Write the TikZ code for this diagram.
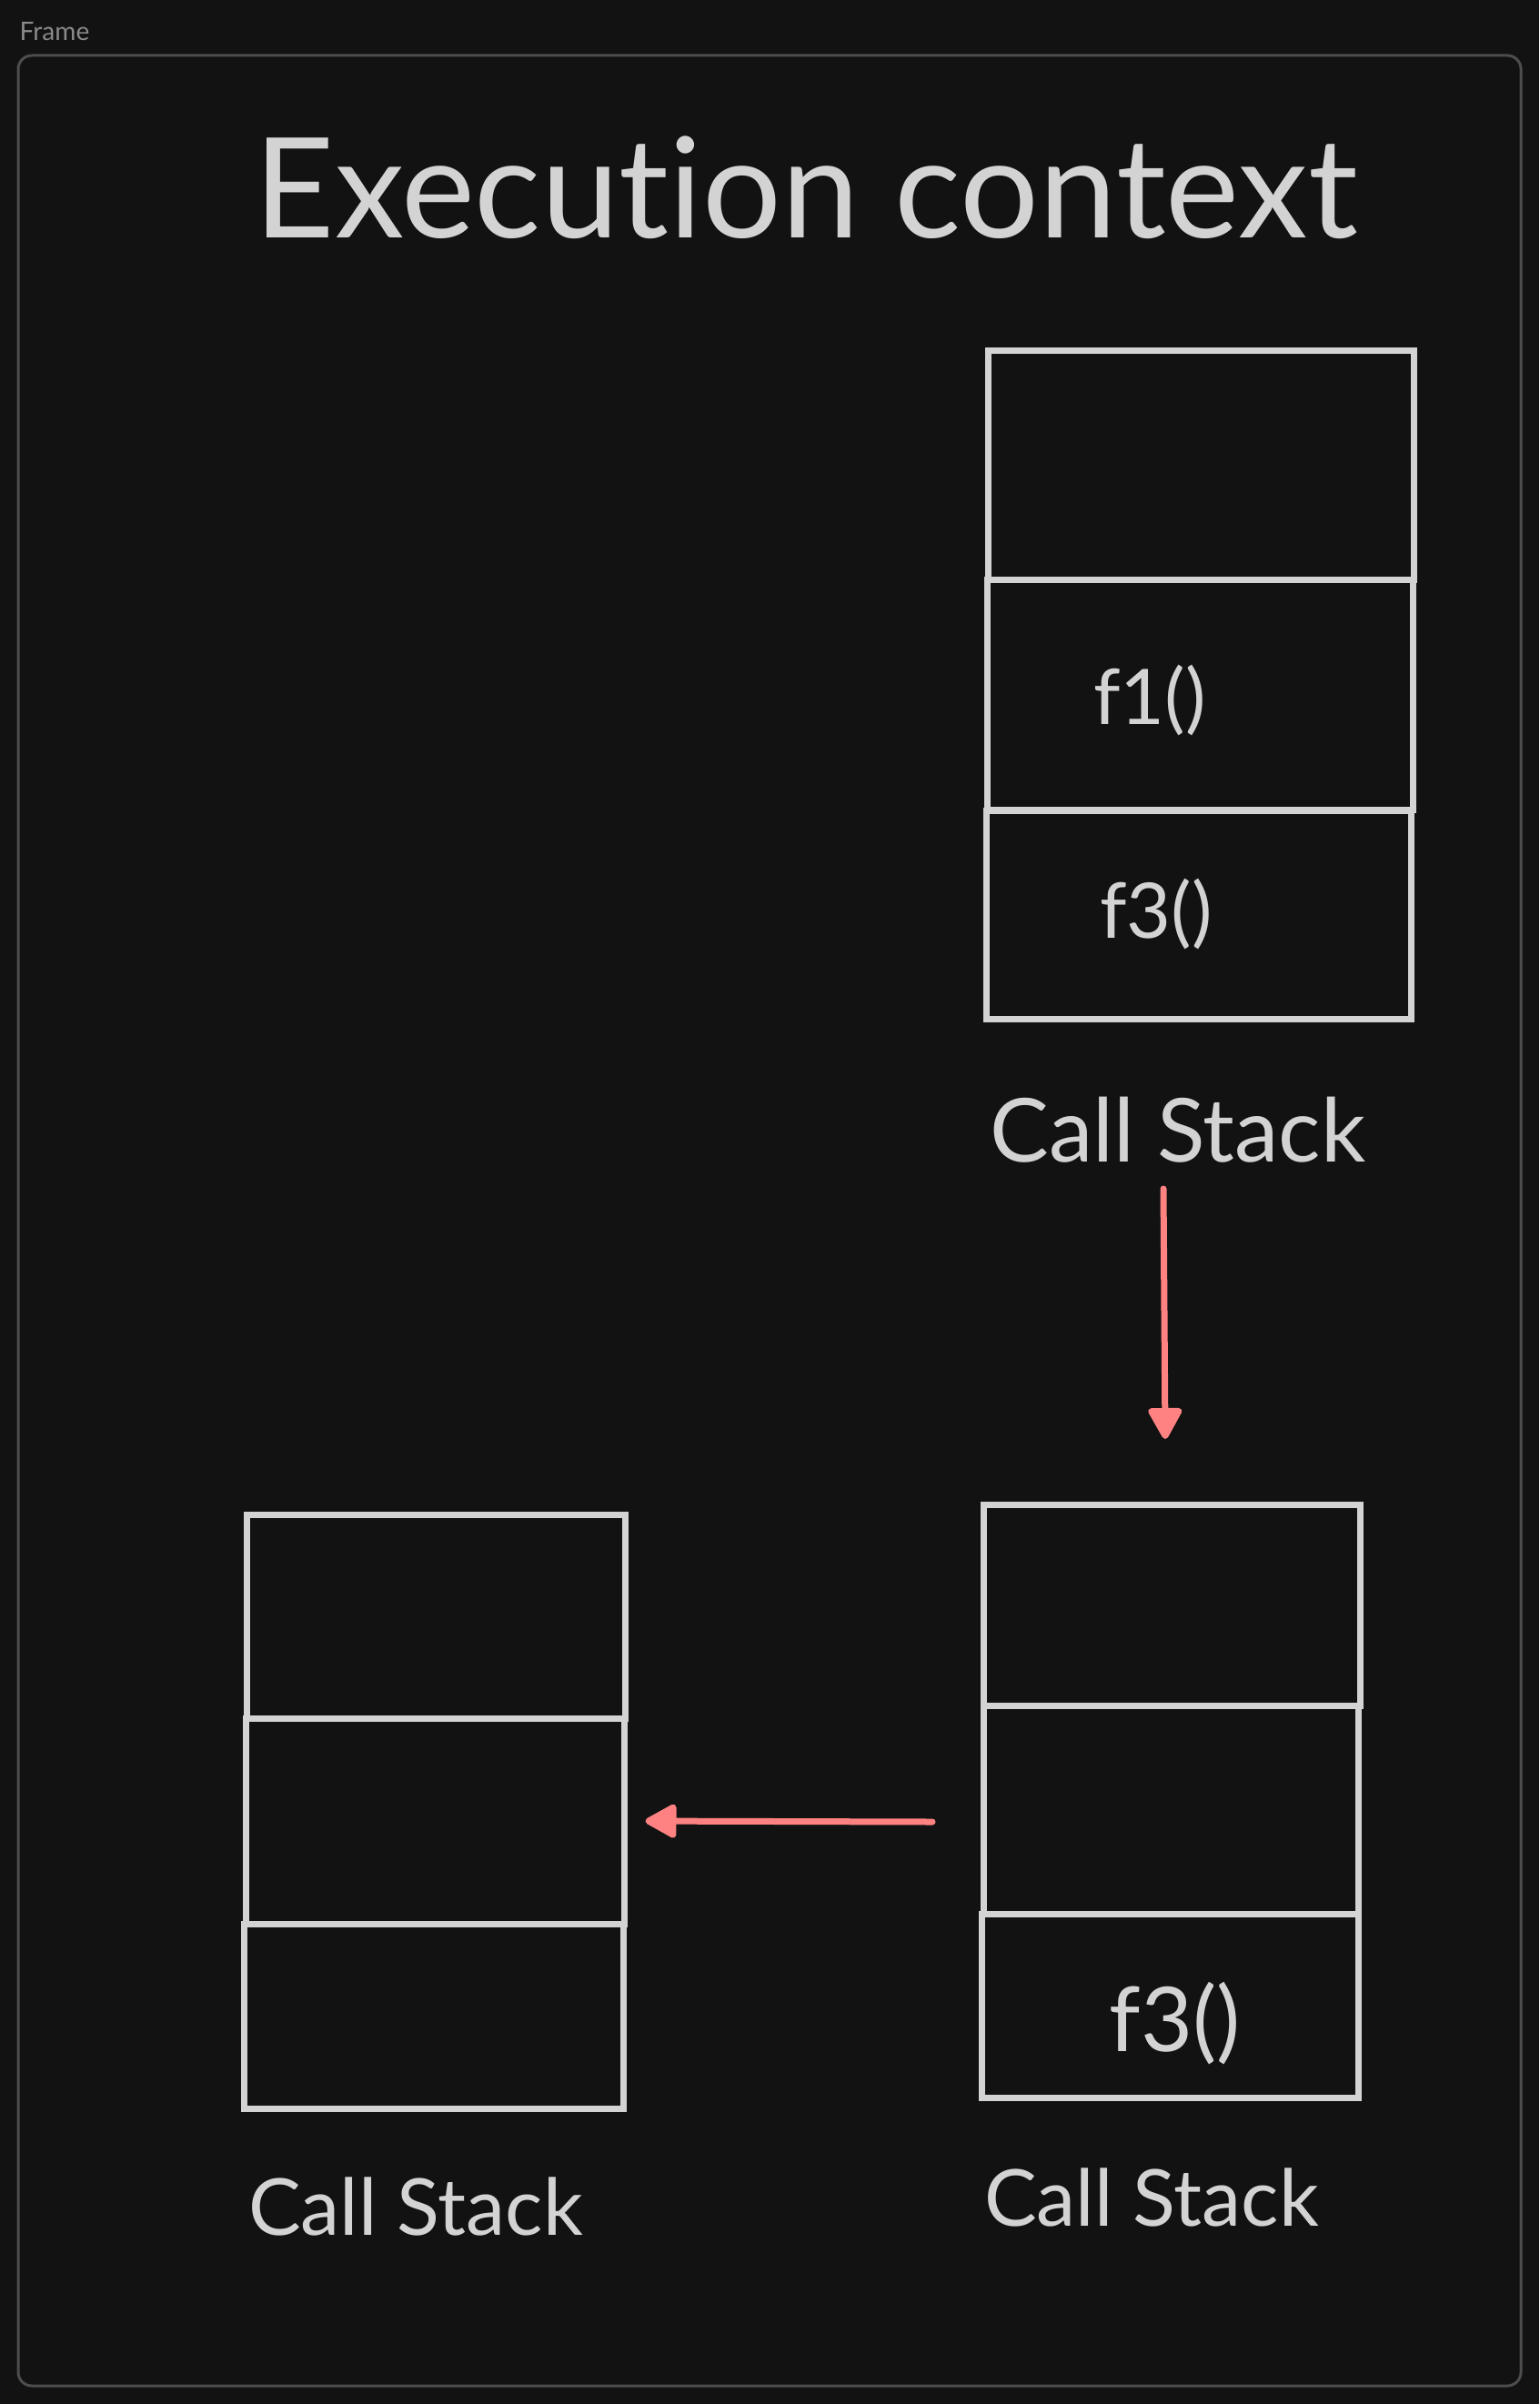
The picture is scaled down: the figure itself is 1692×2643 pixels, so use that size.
\documentclass[tikz,border=0pt]{standalone}
\usepackage{fontspec}
\setmainfont{Lato}[Ligatures={NoCommon,NoRare}]
\usetikzlibrary{arrows.meta}
\definecolor{bg}{HTML}{121212}
\definecolor{ink}{HTML}{D3D3D3}
\definecolor{framegray}{HTML}{4D4D4D}
\definecolor{labelgray}{HTML}{8A8A8A}
\definecolor{arrowred}{HTML}{FF8282}
\tikzset{
slot/.style={draw=ink, line width=0.7mm, rectangle, inner sep=0pt},
fname/.style={text=ink, inner sep=0pt, font=\fontsize{24}{28}\selectfont},
caption/.style={text=ink, inner sep=0pt, anchor=base, font=\fontsize{24.6}{30}\selectfont},
flow/.style={draw=arrowred, line width=0.7mm, line cap=round, -{Triangle[length=3.8mm, width=4mm, round]}},
}

\begin{document}
\begin{tikzpicture}[x=0.1mm, y=-0.1mm]
    \fill[bg] (0,0) rectangle (1692,2643);
    \useasboundingbox (0,0) rectangle (1692,2643);

    % frame
    \node[text=labelgray, anchor=base west, inner sep=0pt, font=\fontsize{8}{10}\selectfont] (framelbl) at (21,45) {Frame};
    \draw[framegray, line width=0.3mm, rounded corners=1.5mm] (20,61) rectangle (1672,2623);
    \node[text=ink, anchor=base, inner sep=0pt, font=\fontsize{43.6}{50}\selectfont] (title) at (886,262) {Execution context};

    %stack top right
    \node[slot, minimum width=46.8mm, minimum height=25.2mm] (a1) at (1320,512)    { };
    \node[slot, minimum width=46.8mm, minimum height=25.3mm] (a2) at (1319,764.5)  { };
    \node[slot, minimum width=46.7mm, minimum height=22.9mm] (a3) at (1317.5,1005.5) { };
    \node[fname] (fa2) at (1264,770)  {f1()};
    \node[fname] (fa3) at (1271,1005) {f3()};
    \node[caption, font=\fontsize{27.6}{32}\selectfont] (capA) at (1295,1277) {Call Stack};

    %stack bottom right
    \node[slot, minimum width=41.4mm, minimum height=22.1mm] (b1) at (1288,1764.5) { };
    \node[slot, minimum width=41.2mm, minimum height=22.9mm] (b2) at (1287,1989.5) { };
    \node[slot, minimum width=41.4mm, minimum height=20.2mm] (b3) at (1286,2205)   { };
    \node[fname, font=\fontsize{28}{32}\selectfont] (fb3) at (1292,2225) {f3()};
    \node[caption] (capB) at (1266,2447) {Call Stack};

    %stack bottom left
    \node[slot, minimum width=41.6mm, minimum height=22.4mm] (c1) at (479,1777)    { };
    \node[slot, minimum width=41.6mm, minimum height=22.6mm] (c2) at (478,2002)    { };
    \node[slot, minimum width=41.7mm, minimum height=20.3mm] (c3) at (476.5,2216.5) { };
    \node[caption] (capC) at (457,2457) {Call Stack};

    % arrows
    \coordinate (downtop) at (1279,1307);
    \coordinate (downend) at (1281,1582);
    \coordinate (lefttail) at (1025,2003);
    \draw[flow] (downtop)--(downend);
    \draw[flow, shorten >=2mm] (lefttail)--(c2.east);

\end{tikzpicture}
\end{document}
